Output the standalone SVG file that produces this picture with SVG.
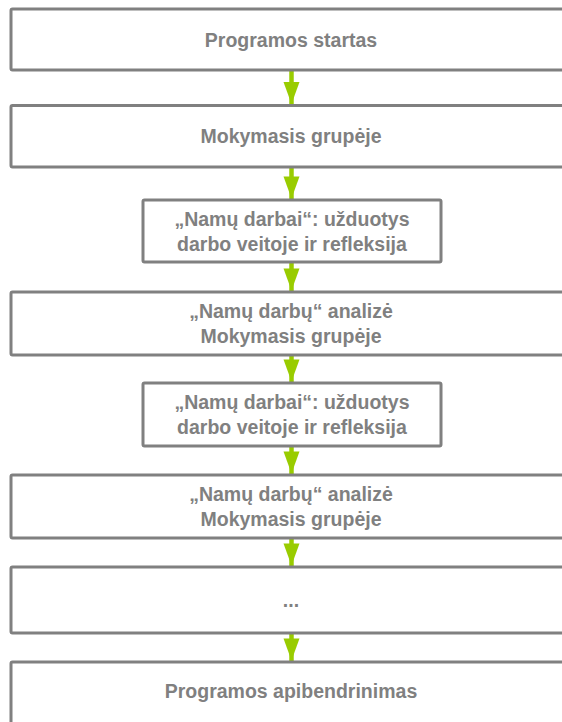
<svg xmlns="http://www.w3.org/2000/svg" width="562" height="722" viewBox="0 0 562 722">
  <style>
    .box { fill: #ffffff; stroke: #808080; stroke-width: 3; }
    .lbl { font-family: "Liberation Sans", Arial, sans-serif; font-weight: bold; font-size: 19.5px; fill: #808080; text-anchor: middle; }
    .shaft { stroke: #99cc00; stroke-width: 4.5; fill: none; }
    .head { fill: #99cc00; }
  </style>
  <rect width="562" height="722" fill="#ffffff"/>

  <!-- connectors -->
  <g id="connectors">
    <line class="shaft" x1="291.5" y1="70" x2="291.5" y2="107"/>
    <polygon class="head" points="283.5,82 299.5,82 291.5,104"/>
    <line class="shaft" x1="291.5" y1="167" x2="291.5" y2="201"/>
    <polygon class="head" points="283.5,176.5 299.5,176.5 291.5,198.5"/>
    <line class="shaft" x1="291.5" y1="262" x2="291.5" y2="293"/>
    <polygon class="head" points="283.5,268.5 299.5,268.5 291.5,290.5"/>
    <line class="shaft" x1="291.5" y1="355" x2="291.5" y2="384"/>
    <polygon class="head" points="283.5,359.5 299.5,359.5 291.5,381.5"/>
    <line class="shaft" x1="291.5" y1="446" x2="291.5" y2="476"/>
    <polygon class="head" points="283.5,451.5 299.5,451.5 291.5,473.5"/>
    <line class="shaft" x1="291.5" y1="538" x2="291.5" y2="568"/>
    <polygon class="head" points="283.5,543.5 299.5,543.5 291.5,565.5"/>
    <line class="shaft" x1="291.5" y1="633" x2="291.5" y2="663"/>
    <polygon class="head" points="283.5,638.5 299.5,638.5 291.5,660.5"/>
  </g>

  <g id="start">
    <rect class="box" x="11" y="9" width="580" height="61" rx="1.5"/>
    <text class="lbl" x="291" y="46.5">Programos startas</text>
  </g>
  <g id="group1">
    <rect class="box" x="11" y="105.5" width="580" height="61.5" rx="1.5"/>
    <text class="lbl" x="291" y="143">Mokymasis grupėje</text>
  </g>
  <g id="homework1">
    <rect class="box" x="143" y="200" width="298" height="62" rx="1.5"/>
    <text class="lbl" x="292" y="225.5">„Namų darbai“: užduotys</text>
    <text class="lbl" x="292" y="250.5">darbo veitoje ir refleksija</text>
  </g>
  <g id="analysis1">
    <rect class="box" x="11" y="292" width="580" height="63" rx="1.5"/>
    <text class="lbl" x="291" y="318">„Namų darbų“ analizė</text>
    <text class="lbl" x="291" y="343">Mokymasis grupėje</text>
  </g>
  <g id="homework2">
    <rect class="box" x="143" y="383" width="298" height="63" rx="1.5"/>
    <text class="lbl" x="292" y="409">„Namų darbai“: užduotys</text>
    <text class="lbl" x="292" y="434">darbo veitoje ir refleksija</text>
  </g>
  <g id="analysis2">
    <rect class="box" x="11" y="475" width="580" height="63" rx="1.5"/>
    <text class="lbl" x="291" y="501">„Namų darbų“ analizė</text>
    <text class="lbl" x="291" y="526">Mokymasis grupėje</text>
  </g>
  <g id="more">
    <rect class="box" x="11" y="567" width="580" height="66" rx="1.5"/>
    <text class="lbl" x="291" y="607">...</text>
  </g>
  <g id="summary">
    <rect class="box" x="11" y="662" width="580" height="80" rx="1.5"/>
    <text class="lbl" x="291" y="698">Programos apibendrinimas</text>
  </g>
</svg>
